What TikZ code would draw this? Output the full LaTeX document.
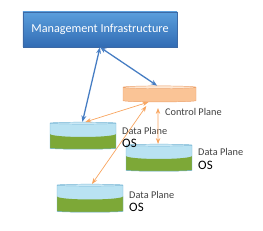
\documentclass[tikz,border=0pt]{standalone}
\usepackage{fontspec}
\setsansfont{Carlito}
\usetikzlibrary{shapes.geometric, arrows.meta, positioning, shadows, calc}
\definecolor{mgmttop}{RGB}{90,158,220}
\definecolor{mgmtbot}{RGB}{50,108,180}
\definecolor{mgmtedge}{RGB}{60,105,165}
\definecolor{cpbody}{RGB}{250,196,150}
\definecolor{cpend}{RGB}{254,232,212}
\definecolor{cpedge}{RGB}{236,160,105}
\definecolor{dpbody}{RGB}{185,226,242}
\definecolor{dpend}{RGB}{215,240,250}
\definecolor{dpedge}{RGB}{115,180,212}
\definecolor{dpgreen}{RGB}{125,168,55}
\definecolor{bluearrowc}{RGB}{70,125,195}
\definecolor{orangearrowc}{RGB}{248,165,95}
\tikzset{
  mgmtbox/.style={rectangle, draw=mgmtedge, top color=mgmttop, bottom color=mgmtbot,
    text=white, font=\sffamily\fontsize{10.4}{12}\selectfont, minimum width=4.62cm, minimum height=1.05cm,
    drop shadow={shadow xshift=0.3pt, shadow yshift=-1.2pt, opacity=0.25}},
  diskbase/.style={cylinder, shape border rotate=90, aspect=0.24, cylinder uses custom fill, draw},
  cpdisk/.style={diskbase, aspect=0.34, draw=cpedge, cylinder body fill=cpbody, cylinder end fill=cpend,
    minimum width=2.19cm, minimum height=0.48cm},
  dpdisk/.style={diskbase, draw=dpedge, cylinder body fill=dpbody, cylinder end fill=dpend,
    minimum width=1.98cm, minimum height=0.81cm,
    path picture={\fill[dpgreen] let \p1=(path picture bounding box.west),
      \p2=(path picture bounding box.east), \n1={(\x2-\x1)/2} in
      ([yshift=1.5pt]path picture bounding box.west) arc[start angle=180, end angle=360, x radius=\n1, y radius=2.6pt]
      |- (path picture bounding box.south west) -- cycle;}},
  planelabel/.style={font=\sffamily\fontsize{8.8}{10}\selectfont, text=black!75, inner sep=0pt, anchor=west},
  oslabel/.style={font=\sffamily\fontsize{11}{12}\selectfont, text=black, inner sep=0pt, anchor=west},
  bluearrow/.style={{Stealth[length=5.5pt]}-{Stealth[length=5.5pt]}, draw=bluearrowc, line width=1.1pt},
  orangearrow/.style={{Stealth[length=5pt]}-{Stealth[length=5pt]}, draw=orangearrowc, line width=0.6pt}
}
\begin{document}
\begin{tikzpicture}[x=0.03cm, y=-0.03cm]
  \useasboundingbox (0,0) rectangle (263,230);
  % boxes and disks
  \node[mgmtbox] (mgmt) at (100,29.5) {Management Infrastructure};
  \node[cpdisk] (cp) at (159.5,95) {};
  \node[dpdisk] (dp1) at (83,136.5) {};
  \node[dpdisk] (dp2) at (159,158.5) {};
  \node[dpdisk, minimum height=0.84cm] (dp3) at (90,199) {};
  % labels
  \node[planelabel] (cplabel) at (165,112) {Control Plane};
  \node[planelabel] (dp1label) at (122,131) {Data Plane};
  \node[oslabel] (dp1os) at (122,143) {OS};
  \node[planelabel] (dp2label) at (198,152) {Data Plane};
  \node[oslabel] (dp2os) at (198,165) {OS};
  \node[planelabel] (dp3label) at (129,195) {Data Plane};
  \node[oslabel] (dp3os) at (129,207) {OS};
  % connectors
  \draw[bluearrow] (mgmt.south) -- ([xshift=-0.5pt]dp1.north);
  \draw[bluearrow] (mgmt.south) -- ([xshift=-2pt]cp.north);
  \draw[orangearrow] ([xshift=-9.5pt]cp.south) -- ([xshift=2pt]dp1.north);
  \draw[orangearrow, shorten <=5pt] ([xshift=-1.3pt]cp.south) -- ([xshift=-0.8pt]dp2.north);
  \draw[orangearrow, shorten <=4pt] ([xshift=-9pt]cp.south) -- ([xshift=1.7pt]dp3.north);
\end{tikzpicture}
\end{document}
